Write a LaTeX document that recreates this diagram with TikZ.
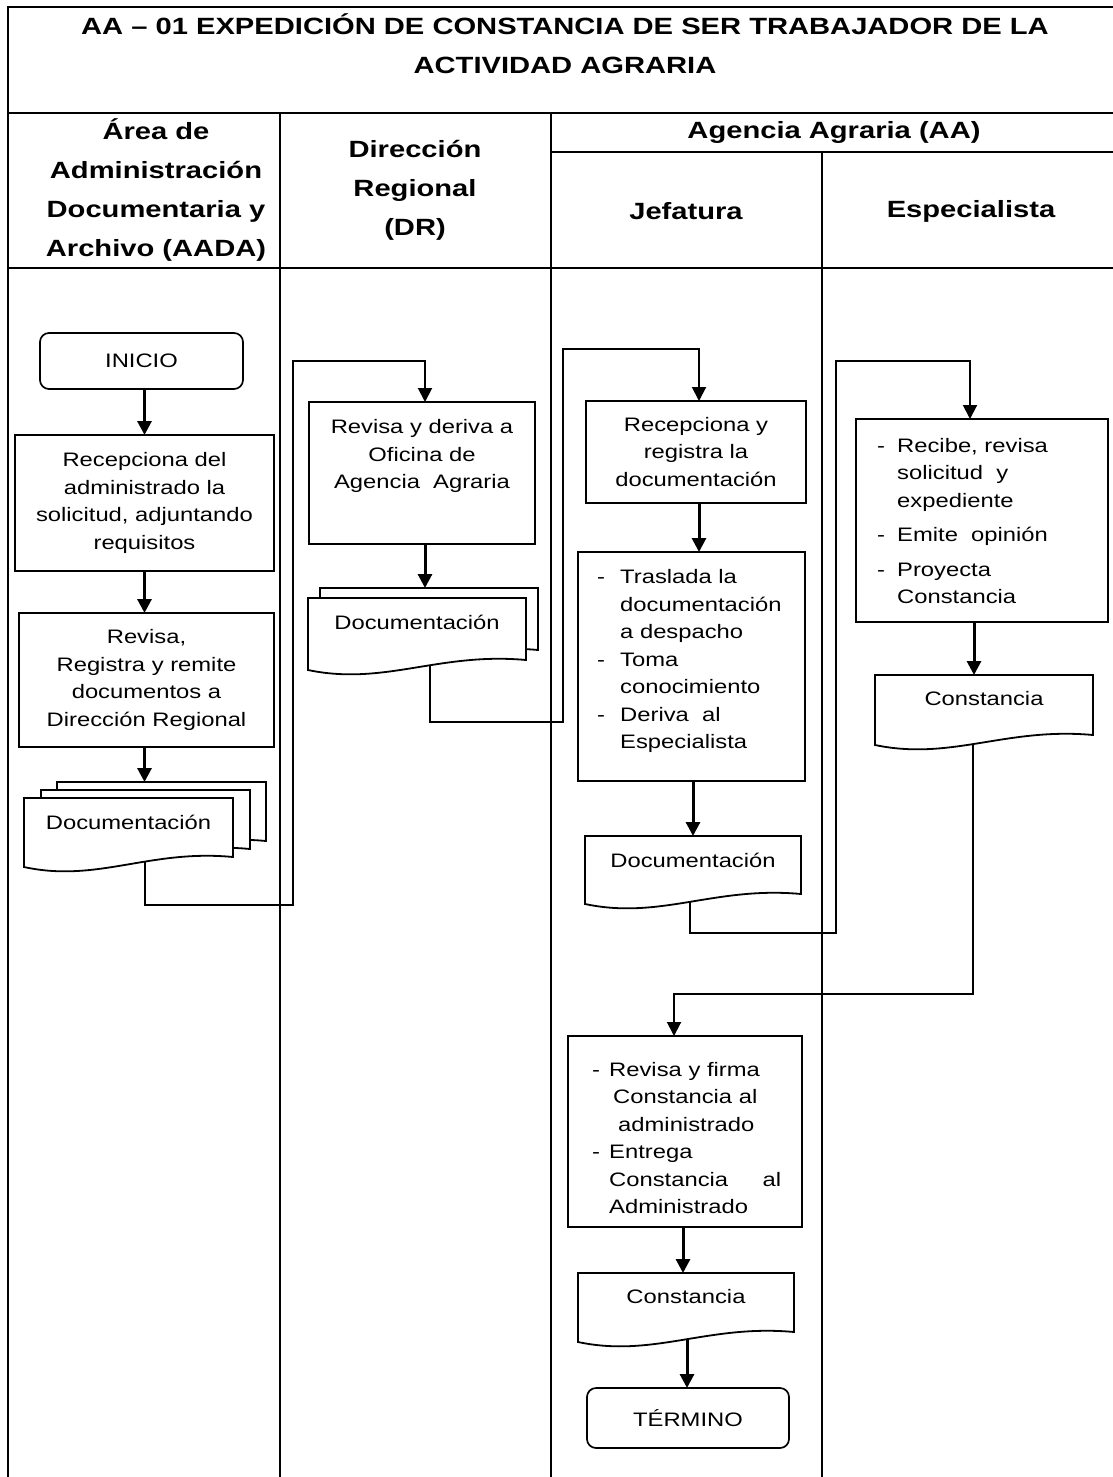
\documentclass[tikz,border=0pt]{standalone}
\usepackage{fontspec}
\setmainfont{Liberation Sans}
\newfontfamily\bodyfont[FakeStretch=1.22]{Liberation Sans}
\newfontfamily\headfont[FakeStretch=1.24]{Liberation Sans}
\usetikzlibrary{arrows.meta,calc}
\pgfdeclarelayer{bg}
\pgfdeclarelayer{shp}
\pgfsetlayers{bg,shp,main}

% bullet dash in a fixed-width column
\newcommand\dashcol[1]{\makebox[#1][l]{-}}

% document symbol: node, drop of the right edge, x offset, y offset
\newcommand\docshape[4]{%
  \path[docline] ($(#1.north west)+(#3,#4)$) -- ($(#1.north east)+(#3,#4)$)
    -- ($(#1.north east)+(#3,#4+#2)$)
    .. controls ($(#1.north east)!0.4!(#1.north west)+(#3,#4+#2-8)$)
    and ($(#1.north west)!0.35!(#1.north east)+(#3,#4+#2+26)$)
    .. ($(#1.north west)+(#3,#4+#2+10)$) -- cycle;}

\tikzset{
  lane/.style={line width=2pt},
  box/.style={draw, rectangle, line width=2pt, fill=white, inner sep=0pt, outer sep=0pt},
  term/.style={box, rounded corners=9pt, line width=1.7pt},
  body/.style={font=\bodyfont\fontsize{19.5}{27.5}\selectfont, align=center, inner sep=0pt},
  head/.style={font=\headfont\bfseries\fontsize{23.5}{39}\selectfont, align=center, inner sep=0pt},
  docnode/.style={body, minimum height=48pt, outer sep=0pt},
  docline/.style={draw, fill=white, line width=1.8pt},
  flow/.style={line width=3pt, -{Triangle[width=14pt,length=14pt]}},
  conn/.style={line width=2pt, -{Triangle[width=14pt,length=14pt]}},
}

\begin{document}
\begin{tikzpicture}[x=1pt,y=-1pt]
\useasboundingbox (0,0) rectangle (1113,1477);

% swimlane frame
\begin{pgfonlayer}{bg}
\draw[lane] (8,1477) -- (8,7) -- (1113,7);
\draw[lane] (8,113) -- (1113,113);
\draw[lane] (551,152) -- (1113,152);
\draw[lane] (8,268) -- (1113,268);
\draw[lane] (280,113) -- (280,1477);
\draw[lane] (551,113) -- (551,1477);
\draw[lane] (822,152) -- (822,1477);
\end{pgfonlayer}

% headings
\node[head] (title) at (565,44) {AA – 01 EXPEDICIÓN DE CONSTANCIA DE SER TRABAJADOR DE LA\\ACTIVIDAD AGRARIA};
\node[head] (hA) at (156,190) {Área de\\Administración\\Documentaria y\\Archivo (AADA)};
\node[head] (hD) at (415,190) {Dirección\\Regional\\(DR)};
\node[head] (hAA) at (834,132) {Agencia Agraria (AA)};
\node[head] (hJ) at (686,211) {Jefatura};
\node[head] (hE) at (971,211) {Especialista};

% AADA lane
\node[term, body, minimum width=203pt, minimum height=56pt] (ini) at (141.5,361) {INICIO};
\node[box, body, minimum width=259pt, minimum height=136pt] (b1) at (144.5,503)
  {Recepciona del\\administrado la\\solicitud, adjuntando\\requisitos};
\node[box, body, minimum width=255pt, minimum height=134pt] (b2) at (146.5,680)
  {Revisa,\\Registra y remite\\documentos a\\Dirección Regional};
\node[docnode, minimum width=209pt] (d1) at (128.5,822) {Documentación};

% DR lane
\node[box, minimum width=226pt, minimum height=142pt] (b3) at (422,473) {};
\node[body] (b3t) at (422,456) {Revisa y deriva a\\Oficina de\\Agencia \ Agraria};
\node[docnode, minimum width=218pt] (d2) at (417,622) {Documentación};

% Jefatura lane
\node[box, body, minimum width=220pt, minimum height=102pt] (b4) at (696,452)
  {Recepciona y\\registra la\\documentación};
\node[box, minimum width=227pt, minimum height=229pt] (b5) at (691.5,666.5) {};
\node[body, align=left, anchor=west] (b5t) at (597,661) {%
  \dashcol{23pt}Traslada la\\
  \hspace*{23pt}documentación\\
  \hspace*{23pt}a despacho\\
  \dashcol{23pt}Toma\\
  \hspace*{23pt}conocimiento\\
  \dashcol{23pt}Deriva \ al\\
  \hspace*{23pt}Especialista};
\node[docnode, minimum width=216pt] (d3) at (693,860) {Documentación};

% Especialista lane
\node[box, minimum width=252pt, minimum height=203pt] (b6) at (982,520.5) {};
\node[body, align=left, anchor=west] (b6t) at (877,521) {%
  \dashcol{20pt}Recibe, revisa\\
  \hspace*{20pt}solicitud \ y\\
  \hspace*{20pt}expediente\\[7pt]
  \dashcol{20pt}Emite \ opinión\\[7pt]
  \dashcol{20pt}Proyecta\\
  \hspace*{20pt}Constancia};
\node[docnode, minimum width=218pt] (d4) at (984,699) {Constancia};

% closing steps
\node[box, minimum width=234pt, minimum height=191pt] (b7) at (685,1131.5) {};
\node[body, align=left, anchor=west] (b7t) at (592,1138) {%
  \dashcol{17pt}Revisa y firma\\
  \hspace*{21pt}Constancia al\\
  \hspace*{26pt}administrado\\
  \dashcol{17pt}Entrega\\
  \hspace*{17pt}\makebox[172pt][s]{Constancia\hfill al}\\
  \hspace*{17pt}Administrado};
\node[docnode, minimum width=216pt] (d5) at (686,1297) {Constancia};
\node[term, body, minimum width=202pt, minimum height=60pt] (end) at (688,1418) {TÉRMINO};

% document symbols
\begin{pgfonlayer}{shp}
\docshape{d1}{59}{33}{-16}
\docshape{d1}{59}{17}{-8}
\docshape{d1}{59}{0}{0}
\docshape{d2}{62}{12}{-10}
\docshape{d2}{62}{0}{0}
\docshape{d3}{58}{0}{0}
\docshape{d4}{60}{0}{0}
\docshape{d5}{59}{0}{0}
\end{pgfonlayer}

% bends of the connectors
\coordinate (c1a) at (293,905);
\coordinate (c1b) at (425,361);
\coordinate (c2a) at (563,722);
\coordinate (c2b) at (699,349);
\coordinate (c3a) at (836,933);
\coordinate (c3b) at (970,361);
\coordinate (c4a) at (674,994);

% flow
\begin{pgfonlayer}{bg}
\draw[flow] (ini.south -| b1.north) -- (b1.north);
\draw[flow] (b1.south) -- (b1.south |- b2.north);
\draw[flow] (b2.south -| b1.south) -- ($(b1.south |- d1.north)+(0,-16)$);
\draw[conn] (d1.south -| b1.south) |- (c1a) |- (c1b) -- (c1b |- b3.north);
\draw[flow] (b3.south -| c1b) -- ($(c1b |- d2.north)+(0,-10)$);
\draw[conn] ($(d2.south)+(13,0)$) |- (c2a) |- (c2b) -- (c2b |- b4.north);
\draw[flow] (b4.south -| c2b) -- (c2b |- b5.north);
\draw[flow] (b5.south -| d3.north) -- (d3.north);
\draw[conn] ($(d3.south)+(-3,0)$) |- (c3a) |- (c3b) -- (c3b |- b6.north);
\draw[flow] ($(b6.south)+(-8,0)$) -- ($(b6.south |- d4.north)+(-8,0)$);
\draw[conn] ($(d4.south)+(-11,0)$) |- (c4a) -- (c4a |- b7.north);
\draw[flow] ($(b7.south)+(-2,0)$) -- ($(b7.south |- d5.north)+(-2,0)$);
\draw[flow] ($(d5.south)+(1,0)$) -- ($(d5.south |- end.north)+(1,0)$);
\end{pgfonlayer}
\end{tikzpicture}
\end{document}
